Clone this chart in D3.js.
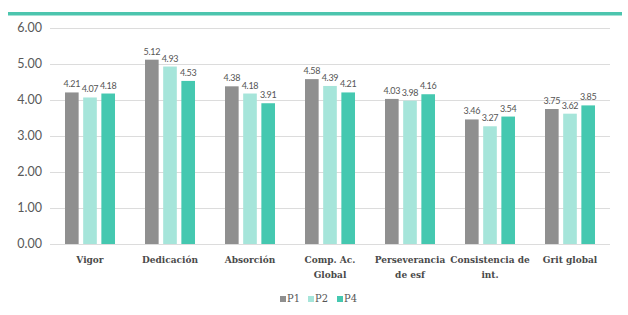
<!DOCTYPE html>
<html><head><meta charset="utf-8">
<script src="https://cdn.jsdelivr.net/npm/d3@7"></script>
<style>body{margin:0;background:#fff}svg{display:block}.sf{font-family:'DejaVu Serif',serif;font-stretch:condensed}</style>
</head><body><svg id="c" width="628" height="315"></svg>
<script>
const categories = [["Vigor"],["Dedicación"],["Absorción"],["Comp. Ac.","Global"],["Perseverancia","de esf"],["Consistencia de","int."],["Grit global"]];
const seriesNames = ["P1","P2","P4"];
const p1 = [4.21,5.12,4.38,4.58,4.03,3.46,3.75];
const p2 = [4.07,4.93,4.18,4.39,3.98,3.27,3.62];
const p4 = [4.18,4.53,3.91,4.21,4.16,3.54,3.85];
const yTicks = [0,1,2,3,4,5,6];
const colors = ["#8f8f8f","#a6e5da","#45c8b0"];

const svg = d3.select("#c");
const series = [p1,p2,p4];
const x = d3.scaleBand().domain(d3.range(categories.length)).range([50,610]).paddingInner(0.375).paddingOuter(0.1875);
const x1 = d3.scaleBand().domain(d3.range(3)).range([0,x.bandwidth()]).paddingInner(0.25);
const y = d3.scaleLinear().domain([0,6]).range([244,28]);

svg.append("rect").attr("x",8).attr("y",12).attr("width",614).attr("height",3.5).attr("fill","#4cc5ae");

const g = svg.append("g");
g.selectAll("line.grid").data(yTicks).join("line")
  .attr("x1",50).attr("x2",610).attr("y1",d=>y(d)+0.5).attr("y2",d=>y(d)+0.5)
  .attr("stroke","#dcdcdc").attr("stroke-width",1);
g.selectAll("text.yt").data(yTicks).join("text")
  .attr("x",42).attr("y",d=>y(d)).attr("dy","0.35em").attr("text-anchor","end")
  .attr("font-family","Lato, 'Open Sans', sans-serif").attr("font-size",12.5).attr("fill","#595959")
  .text(d=>d.toFixed(2));

categories.forEach((c,i)=>{
  series.forEach((s,j)=>{
    const bx = x(i)+x1(j);
    g.append("rect").attr("x",bx).attr("y",y(s[i])).attr("width",x1.bandwidth()).attr("height",y(0)-y(s[i])).attr("fill",colors[j]);
    g.append("text").attr("x",bx+x1.bandwidth()/2).attr("y",y(s[i])-5).attr("text-anchor","middle")
      .attr("font-family","Lato, sans-serif").attr("font-size",9).attr("fill","#555").attr("letter-spacing","-0.3")
      .text(s[i].toFixed(2));
  });
  const t = g.append("text").attr("class","sf").attr("text-anchor","middle")
    .attr("font-weight","bold").attr("font-size",10).attr("fill","#4a4a4a");
  c.forEach((line,k)=>{
    t.append("tspan").attr("x",x(i)+x.bandwidth()/2).attr("y",263+k*14.5).text(line);
  });
});

const leg = svg.append("g").attr("class","sf").attr("font-size",11).attr("fill","#555");
const legX = [280,308,337];
seriesNames.forEach((n,j)=>{
  leg.append("rect").attr("x",legX[j]).attr("y",296).attr("width",6).attr("height",6).attr("fill",colors[j]);
  leg.append("text").attr("x",legX[j]+7).attr("y",302).text(n);
});
</script></body></html>
